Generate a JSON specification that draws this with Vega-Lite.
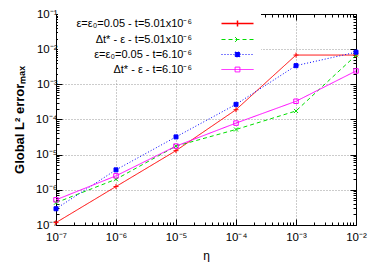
{
  "$schema": "https://vega.github.io/schema/vega-lite/v6.json",
  "width": 300,
  "height": 211,
  "autosize": {"type": "none"},
  "padding": {"left": 56, "top": 14, "right": 18, "bottom": 37},
  "config": {
    "view": {"stroke": null},
    "font": "Liberation Sans",
    "axis": {"domainColor": "black", "tickColor": "black", "domainWidth": 1, "tickWidth": 1, "labelColor": "black", "titleColor": "black", "labelFont": "Liberation Sans", "titleFont": "Liberation Sans"}
  },
  "data": {
    "values": [
      {"series": "ε=ε₀=0.05 - t=5.01x10⁻⁶", "eta": 1e-7, "err": 1.17e-7},
      {"series": "ε=ε₀=0.05 - t=5.01x10⁻⁶", "eta": 1e-6, "err": 1.24e-6},
      {"series": "ε=ε₀=0.05 - t=5.01x10⁻⁶", "eta": 1e-5, "err": 1.3e-5},
      {"series": "ε=ε₀=0.05 - t=5.01x10⁻⁶", "eta": 1e-4, "err": 1.9e-4},
      {"series": "ε=ε₀=0.05 - t=5.01x10⁻⁶", "eta": 1e-3, "err": 6.8e-3},
      {"series": "ε=ε₀=0.05 - t=5.01x10⁻⁶", "eta": 1e-2, "err": 6.8e-3},
      {"series": "Δt* - ε - t=5.01x10⁻⁶", "eta": 1e-7, "err": 4.3e-7},
      {"series": "Δt* - ε - t=5.01x10⁻⁶", "eta": 1e-6, "err": 2.0e-6},
      {"series": "Δt* - ε - t=5.01x10⁻⁶", "eta": 1e-5, "err": 1.75e-5},
      {"series": "Δt* - ε - t=5.01x10⁻⁶", "eta": 1e-4, "err": 5.2e-5},
      {"series": "Δt* - ε - t=5.01x10⁻⁶", "eta": 1e-3, "err": 1.75e-4},
      {"series": "Δt* - ε - t=5.01x10⁻⁶", "eta": 1e-2, "err": 6.7e-3},
      {"series": "ε=ε₀=0.05 - t=6.10⁻⁶", "eta": 1e-7, "err": 2.9e-7},
      {"series": "ε=ε₀=0.05 - t=6.10⁻⁶", "eta": 1e-6, "err": 3.7e-6},
      {"series": "ε=ε₀=0.05 - t=6.10⁻⁶", "eta": 1e-5, "err": 3.2e-5},
      {"series": "ε=ε₀=0.05 - t=6.10⁻⁶", "eta": 1e-4, "err": 2.7e-4},
      {"series": "ε=ε₀=0.05 - t=6.10⁻⁶", "eta": 1e-3, "err": 3.4e-3},
      {"series": "ε=ε₀=0.05 - t=6.10⁻⁶", "eta": 1e-2, "err": 8.2e-3},
      {"series": "Δt* - ε - t=6.10⁻⁶", "eta": 1e-7, "err": 5.2e-7},
      {"series": "Δt* - ε - t=6.10⁻⁶", "eta": 1e-6, "err": 2.5e-6},
      {"series": "Δt* - ε - t=6.10⁻⁶", "eta": 1e-5, "err": 1.75e-5},
      {"series": "Δt* - ε - t=6.10⁻⁶", "eta": 1e-4, "err": 7.9e-5},
      {"series": "Δt* - ε - t=6.10⁻⁶", "eta": 1e-3, "err": 3.3e-4},
      {"series": "Δt* - ε - t=6.10⁻⁶", "eta": 1e-2, "err": 2.4e-3}
    ]
  },
  "layer": [
    {
      "mark": {"type": "line", "strokeWidth": 1, "clip": true},
      "encoding": {
        "x": {
          "field": "eta", "type": "quantitative",
          "scale": {"type": "log", "domain": [1e-7, 1e-2], "nice": false},
          "axis": {
            "orient": "bottom",
            "values": [1e-7, 2e-7, 3e-7, 4e-7, 5e-7, 6e-7, 7e-7, 8e-7, 9e-7, 1e-6, 2e-6, 3e-6, 4e-6, 5e-6, 6e-6, 7e-6, 8e-6, 9e-6, 1e-5, 2e-5, 3e-5, 4e-5, 5e-5, 6e-5, 7e-5, 8e-5, 9e-5, 1e-4, 2e-4, 3e-4, 4e-4, 5e-4, 6e-4, 7e-4, 8e-4, 9e-4, 1e-3, 2e-3, 3e-3, 4e-3, 5e-3, 6e-3, 7e-3, 8e-3, 9e-3, 1e-2],
            "labelExpr": "abs(log(datum.value)/LN10 - round(log(datum.value)/LN10)) < 0.001 ? '10⁻' + ['⁰','¹','²','³','⁴','⁵','⁶','⁷','⁸','⁹'][-round(log(datum.value)/LN10)] : ''",
            "labelFontSize": 11.5,
            "labelPadding": 12,
            "labelOverlap": false,
            "labelFlush": false,
            "labelBound": false,
            "title": "η",
            "titleFontSize": 12,
            "titleFontWeight": "normal",
            "titlePadding": 5,
            "grid": true,
            "gridDash": [1, 2],
            "gridColor": "#999999",
            "gridOpacity": {"condition": {"test": "abs(log(datum.value)/LN10 - round(log(datum.value)/LN10)) < 0.001", "value": 1}, "value": 0},
            "tickSize": {"condition": {"test": "abs(log(datum.value)/LN10 - round(log(datum.value)/LN10)) < 0.001", "value": -6}, "value": -3}
          }
        },
        "y": {
          "field": "err", "type": "quantitative",
          "scale": {"type": "log", "domain": [1e-7, 1e-1], "nice": false},
          "axis": {
            "orient": "left",
            "values": [1e-7, 2e-7, 3e-7, 4e-7, 5e-7, 6e-7, 7e-7, 8e-7, 9e-7, 1e-6, 2e-6, 3e-6, 4e-6, 5e-6, 6e-6, 7e-6, 8e-6, 9e-6, 1e-5, 2e-5, 3e-5, 4e-5, 5e-5, 6e-5, 7e-5, 8e-5, 9e-5, 1e-4, 2e-4, 3e-4, 4e-4, 5e-4, 6e-4, 7e-4, 8e-4, 9e-4, 1e-3, 2e-3, 3e-3, 4e-3, 5e-3, 6e-3, 7e-3, 8e-3, 9e-3, 1e-2, 2e-2, 3e-2, 4e-2, 5e-2, 6e-2, 7e-2, 8e-2, 9e-2, 1e-1],
            "labelExpr": "abs(log(datum.value)/LN10 - round(log(datum.value)/LN10)) < 0.001 ? '10⁻' + ['⁰','¹','²','³','⁴','⁵','⁶','⁷','⁸','⁹'][-round(log(datum.value)/LN10)] : ''",
            "labelFontSize": 11.5,
            "labelPadding": 5,
            "labelOverlap": false,
            "labelFlush": false,
            "labelBound": false,
            "title": "Global L² errorₘₐₓ",
            "titleFontSize": 13,
            "titleFontWeight": "bold",
            "titlePadding": 9,
            "grid": true,
            "gridDash": [1, 2],
            "gridColor": "#999999",
            "gridOpacity": {"condition": {"test": "abs(log(datum.value)/LN10 - round(log(datum.value)/LN10)) < 0.001", "value": 1}, "value": 0},
            "tickSize": {"condition": {"test": "abs(log(datum.value)/LN10 - round(log(datum.value)/LN10)) < 0.001", "value": -6}, "value": -3}
          }
        },
        "color": {
          "field": "series", "type": "nominal",
          "scale": {"domain": ["ε=ε₀=0.05 - t=5.01x10⁻⁶", "Δt* - ε - t=5.01x10⁻⁶", "ε=ε₀=0.05 - t=6.10⁻⁶", "Δt* - ε - t=6.10⁻⁶"], "range": ["#ff0000", "#00dd00", "#0000ff", "#ff00ff"]},
          "legend": {
            "orient": "none", "legendX": 2, "legendY": 0,
            "title": null, "fillColor": "white", "padding": 4,
            "labelAlign": "right", "labelOffset": -51, "symbolOffset": 170,
            "symbolSize": 64, "symbolStrokeWidth": 1,
            "labelFontSize": 11, "labelFont": "Liberation Sans", "labelColor": "black", "labelLimit": 300,
            "rowPadding": 3,
            "encode": {
              "symbols": {
                "update": {
                  "shape": {"signal": "datum.index == 0 ? 'M-4,0H4M0,-0.75V0.75' : datum.index == 1 ? 'M-4,0H4M-0.6,-0.6L0.6,0.6M-0.6,0.6L0.6,-0.6' : 'M-4,0H4M-0.6,-0.6H0.6V0.6H-0.6Z'"},
                  "stroke": {"signal": "datum.index == 0 ? '#ff2020' : datum.index == 1 ? '#00dd00' : datum.index == 2 ? '#0000ff' : '#ff00ff'"},
                  "fill": {"signal": "datum.index == 2 ? '#0000ff' : 'transparent'"},
                  "strokeDash": {"signal": "datum.index == 1 ? [4,3] : datum.index == 2 ? [1,2] : [1,0]"},
                  "strokeWidth": {"signal": "datum.index == 0 ? 1.5 : 1"},
                  "opacity": {"value": 1}
                }
              }
            }
          }
        },
        "strokeDash": {
          "field": "series", "type": "nominal",
          "scale": {"domain": ["ε=ε₀=0.05 - t=5.01x10⁻⁶", "Δt* - ε - t=5.01x10⁻⁶", "ε=ε₀=0.05 - t=6.10⁻⁶", "Δt* - ε - t=6.10⁻⁶"], "range": [[1, 0], [4, 3], [1, 2], [1, 0]]},
          "legend": null
        }
      }
    },
    {
      "transform": [{"filter": {"field": "series", "equal": "ε=ε₀=0.05 - t=5.01x10⁻⁶"}}],
      "mark": {"type": "point", "size": 25, "strokeWidth": 1, "opacity": 1, "filled": false, "stroke": "#ff0000", "shape": "M-1,0H1M0,-1V1"},
      "encoding": {
        "x": {
          "field": "eta", "type": "quantitative",
          "scale": {"type": "log", "domain": [1e-7, 1e-2], "nice": false},
          "axis": {
            "orient": "top",
            "values": [1e-7, 2e-7, 3e-7, 4e-7, 5e-7, 6e-7, 7e-7, 8e-7, 9e-7, 1e-6, 2e-6, 3e-6, 4e-6, 5e-6, 6e-6, 7e-6, 8e-6, 9e-6, 1e-5, 2e-5, 3e-5, 4e-5, 5e-5, 6e-5, 7e-5, 8e-5, 9e-5, 1e-4, 2e-4, 3e-4, 4e-4, 5e-4, 6e-4, 7e-4, 8e-4, 9e-4, 1e-3, 2e-3, 3e-3, 4e-3, 5e-3, 6e-3, 7e-3, 8e-3, 9e-3, 1e-2],
            "labels": false, "grid": false, "title": null,
            "tickSize": {"condition": {"test": "abs(log(datum.value)/LN10 - round(log(datum.value)/LN10)) < 0.001", "value": -6}, "value": -3}
          }
        },
        "y": {
          "field": "err", "type": "quantitative",
          "scale": {"type": "log", "domain": [1e-7, 1e-1], "nice": false},
          "axis": {
            "orient": "right",
            "values": [1e-7, 2e-7, 3e-7, 4e-7, 5e-7, 6e-7, 7e-7, 8e-7, 9e-7, 1e-6, 2e-6, 3e-6, 4e-6, 5e-6, 6e-6, 7e-6, 8e-6, 9e-6, 1e-5, 2e-5, 3e-5, 4e-5, 5e-5, 6e-5, 7e-5, 8e-5, 9e-5, 1e-4, 2e-4, 3e-4, 4e-4, 5e-4, 6e-4, 7e-4, 8e-4, 9e-4, 1e-3, 2e-3, 3e-3, 4e-3, 5e-3, 6e-3, 7e-3, 8e-3, 9e-3, 1e-2, 2e-2, 3e-2, 4e-2, 5e-2, 6e-2, 7e-2, 8e-2, 9e-2, 1e-1],
            "labels": false, "grid": false, "title": null,
            "tickSize": {"condition": {"test": "abs(log(datum.value)/LN10 - round(log(datum.value)/LN10)) < 0.001", "value": -6}, "value": -3}
          }
        }
      }
    },
    {
      "transform": [{"filter": {"field": "series", "equal": "Δt* - ε - t=5.01x10⁻⁶"}}],
      "mark": {"type": "point", "size": 25, "strokeWidth": 1, "opacity": 1, "filled": false, "stroke": "#00dd00", "shape": "M-0.8,-0.8L0.8,0.8M-0.8,0.8L0.8,-0.8"},
      "encoding": {
        "x": {"field": "eta", "type": "quantitative", "scale": {"type": "log", "domain": [1e-7, 1e-2], "nice": false}, "axis": null},
        "y": {"field": "err", "type": "quantitative", "scale": {"type": "log", "domain": [1e-7, 1e-1], "nice": false}, "axis": null}
      }
    },
    {
      "transform": [{"filter": {"field": "series", "equal": "ε=ε₀=0.05 - t=6.10⁻⁶"}}],
      "mark": {"type": "point", "size": 25, "strokeWidth": 1, "opacity": 1, "filled": true, "fill": "#0000ff", "stroke": "#0000ff", "shape": "M-0.8,-0.8H0.8V0.8H-0.8Z"},
      "encoding": {
        "x": {"field": "eta", "type": "quantitative", "scale": {"type": "log", "domain": [1e-7, 1e-2], "nice": false}, "axis": null},
        "y": {"field": "err", "type": "quantitative", "scale": {"type": "log", "domain": [1e-7, 1e-1], "nice": false}, "axis": null}
      }
    },
    {
      "transform": [{"filter": {"field": "series", "equal": "Δt* - ε - t=6.10⁻⁶"}}],
      "mark": {"type": "point", "size": 25, "strokeWidth": 1, "opacity": 1, "filled": false, "stroke": "#ff00ff", "shape": "M-0.9,-0.9H0.9V0.9H-0.9Z"},
      "encoding": {
        "x": {"field": "eta", "type": "quantitative", "scale": {"type": "log", "domain": [1e-7, 1e-2], "nice": false}, "axis": null},
        "y": {"field": "err", "type": "quantitative", "scale": {"type": "log", "domain": [1e-7, 1e-1], "nice": false}, "axis": null}
      }
    }
  ],
  "resolve": {"axis": {"x": "independent", "y": "independent"}}
}
